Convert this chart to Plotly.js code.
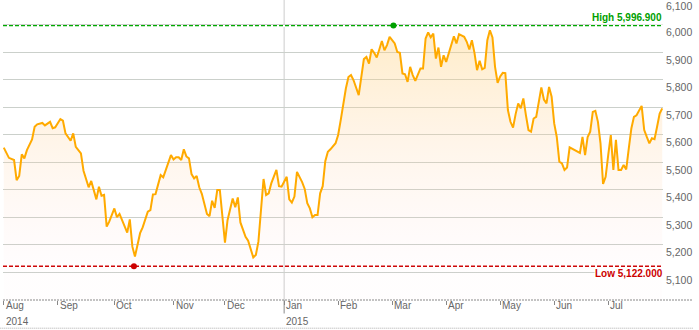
<!DOCTYPE html>
<html>
<head>
<meta charset="utf-8">
<script src="https://cdn.plot.ly/plotly-3.0.1.min.js"></script>
<style>html,body{margin:0;padding:0;background:#fff;}#chart{width:699px;height:330px;}</style>
</head>
<body>
<div id="chart"></div>
<script>
// trading-day index (0 = 1 Aug 2014) and closing level
const dayIdx = [0,1,2,4,5,6,7,8,9,11,12,13,15,16,18,19,20,22,23,24,26,27,28,30,31,33,34,36,37,38,39,40,41,43,44,45,46,48,49,50,51,52,53,54,56,57,58,59,61,62,65,66,67,68,69,70,71,72,73,74,75,76,77,79,80,81,82,83,84,86,87,89,90,91,92,94,95,97,98,99,101,102,103,104,106,107,108,109,110,111,112,113,114,116,117,118,119,120,121,122,123,124,125,126,127,129,130,131,132,133,134,135,136,137,138,140,141,142,143,144,145,146,147,148,149,150,152,153,154,155,156,157,158,159,160,162,163,164,165,166,167,168,169,170,171,172,173,174,175,176,177,179,180,181,182,183,184,185,186,187,188,189,190,191,192,193,194,195,196,197,198,199,200,201,202,203,204,205,206,207,208,209,210,211,212,213,214,215,216,217,218,219,220,222,223,224,225,226,227,228,229,230,231,232,233,234,235,236,237,238,239,240,241,242,243,244,245,246,248,249,250,251,252,253,254,255,256];
const close = [5553,5532,5516,5508,5435,5450,5529,5514,5544,5583,5629,5638,5643,5634,5647,5624,5627,5657,5651,5605,5578,5605,5556,5532,5469,5409,5432,5365,5411,5378,5381,5266,5284,5332,5300,5312,5287,5244,5292,5193,5157,5205,5242,5263,5320,5326,5383,5384,5453,5445,5526,5510,5518,5518,5508,5547,5521,5514,5457,5441,5450,5409,5385,5312,5304,5360,5334,5399,5399,5208,5289,5368,5336,5372,5281,5229,5215,5154,5163,5211,5439,5381,5387,5423,5472,5413,5411,5429,5447,5365,5353,5375,5465,5428,5403,5351,5332,5300,5308,5308,5387,5413,5504,5538,5547,5569,5599,5653,5714,5768,5810,5817,5798,5768,5744,5875,5883,5859,5911,5898,5881,5910,5941,5907,5926,5956,5932,5901,5898,5823,5820,5792,5847,5817,5796,5841,5841,5950,5972,5954,5968,5877,5917,5847,5889,5865,5895,5919,5958,5932,5966,5956,5938,5910,5944,5898,5835,5869,5838,5843,5944,5980,5954,5847,5789,5812,5825,5824,5690,5647,5626,5675,5714,5696,5732,5671,5617,5611,5659,5665,5720,5772,5728,5714,5774,5738,5641,5592,5502,5496,5472,5481,5554,5544,5538,5534,5592,5526,5592,5611,5683,5687,5647,5569,5421,5447,5526,5599,5472,5581,5472,5472,5490,5474,5550,5623,5665,5671,5705,5617,5592,5569,5587,5584,5629,5677,5696];

const monthIdx = [0,21,43,66,86,109,130,151,172,193,214,235];
const monthLabels = ['Aug','Sep','Oct','Nov','Dec','Jan','Feb','Mar','Apr','May','Jun','Jul'];
const yearIdx = [0,109];
const yearLabels = ['2014','2015'];
const yTicks = [5100,5200,5300,5400,5500,5600,5700,5800,5900,6000];
const yTickText = ['5,100','5,200','5,300','5,400','5,500','5,600','5,700','5,800','5,900','6,000'];
const topTickLabel = '6,100';
const highValue = 5996.9, highIdx = 151.5, highText = 'High 5,996.900';
const lowValue = 5122.0, lowIdx = 50.6, lowText = 'Low 5,122.000';

const yMin = 4999, yMax = 6090;
const font = 'Liberation Sans, Arial, sans-serif';

const traces = [
  {
    x: dayIdx, y: close, type: 'scatter', mode: 'lines',
    line: {color: '#ffaa00', width: 2},
    fill: 'tozeroy',
    fillgradient: {type: 'vertical', start: 5100, stop: 6000,
      colorscale: [[0, 'rgba(255,200,210,0.03)'], [0.35, 'rgba(255,210,170,0.15)'], [1, 'rgba(255,210,120,0.42)']]},
    hoverinfo: 'skip'
  },
  {x: [highIdx], y: [highValue], type: 'scatter', mode: 'markers',
   marker: {color: '#00a000', size: 6}, hoverinfo: 'skip'},
  {x: [lowIdx], y: [lowValue], type: 'scatter', mode: 'markers',
   marker: {color: '#cc0000', size: 6}, hoverinfo: 'skip'}
];

const annotations = [];
monthIdx.forEach((m, i) => annotations.push({
  x: m, xref: 'x', y: -0.019, yref: 'paper', text: monthLabels[i],
  xanchor: 'left', yanchor: 'middle', xshift: 0, showarrow: false,
  font: {family: font, size: 10, color: '#666'}
}));
yearIdx.forEach((m, i) => annotations.push({
  x: m, xref: 'x', y: -0.073, yref: 'paper', text: yearLabels[i],
  xanchor: 'left', yanchor: 'middle', xshift: 0, showarrow: false,
  font: {family: font, size: 10, color: '#666'}
}));
annotations.push({
  x: 1, xref: 'paper', y: (6100 - yMin) / (yMax - yMin), yref: 'paper', text: topTickLabel,
  xanchor: 'left', yanchor: 'middle', xshift: 1, yshift: -9, showarrow: false,
  font: {family: font, size: 10.5, color: '#666'}
});
annotations.push({
  x: 1, xref: 'paper', y: highValue, yref: 'y', text: '<b>' + highText + '</b>',
  xanchor: 'right', yanchor: 'bottom', xshift: 1, yshift: 1, showarrow: false,
  bgcolor: '#ffffff', borderpad: 1,
  font: {family: font, size: 10, color: '#00a000'}
});
annotations.push({
  x: 1, xref: 'paper', y: lowValue, yref: 'y', text: '<b>' + lowText + '</b>',
  xanchor: 'right', yanchor: 'top', xshift: 1, yshift: -1, showarrow: false,
  bgcolor: '#ffffff', borderpad: 0,
  font: {family: font, size: 10, color: '#cc0000'}
});

const shapes = [
  {type: 'line', xref: 'x', x0: yearIdx[1], x1: yearIdx[1], yref: 'paper', y0: 0, y1: 1,
   line: {color: '#cccccc', width: 1}, layer: 'below'},
  {type: 'line', xref: 'x', x0: yearIdx[1], x1: yearIdx[1], yref: 'paper', y0: 0, y1: -0.045,
   line: {color: '#888888', width: 1}},
  {type: 'line', xref: 'paper', x0: 0, x1: 1.045, yref: 'paper', y0: 0, y1: 0,
   line: {color: '#888888', width: 1, dash: '2px,1px'}},
  {type: 'line', xref: 'paper', x0: -0.005, x1: 1.045, yref: 'paper', y0: -0.094, y1: -0.094,
   line: {color: '#aaaaaa', width: 1, dash: '1px,1px'}},
  {type: 'line', xref: 'paper', x0: 0, x1: 1, yref: 'y', y0: highValue, y1: highValue,
   line: {color: '#ffffff', width: 3}, layer: 'between'},
  {type: 'line', xref: 'paper', x0: 0, x1: 1, yref: 'y', y0: highValue, y1: highValue,
   line: {color: '#00aa00', width: 1.5, dash: '4px,2px'}, layer: 'between'},
  {type: 'line', xref: 'paper', x0: 0, x1: 1, yref: 'y', y0: lowValue, y1: lowValue,
   line: {color: '#cc0000', width: 1.5, dash: '4px,2px'}, layer: 'between'}
];

const layout = {
  width: 699, height: 330,
  margin: {l: 3, r: 36, t: 0, b: 30, pad: 0},
  paper_bgcolor: '#ffffff', plot_bgcolor: '#ffffff',
  showlegend: false,
  xaxis: {
    range: [-0.3, 256.3], showgrid: false, zeroline: false, showline: false,
    tickmode: 'array', tickvals: monthIdx, ticktext: monthLabels, showticklabels: false,
    ticks: 'outside', ticklen: 4, tickcolor: '#888888', tickwidth: 1
  },
  yaxis: {
    side: 'right', range: [yMin, yMax], zeroline: false, showline: false,
    tickmode: 'array', tickvals: yTicks, ticktext: yTickText,
    gridcolor: '#cbd0cb', gridwidth: 1, ticks: '',
    ticklabelshift: 8, ticklabelstandoff: 2,
    tickfont: {family: font, size: 10.5, color: '#666'}
  },
  annotations: annotations,
  shapes: shapes
};

Plotly.newPlot('chart', traces, layout, {staticPlot: true, displayModeBar: false});
</script>
</body>
</html>
